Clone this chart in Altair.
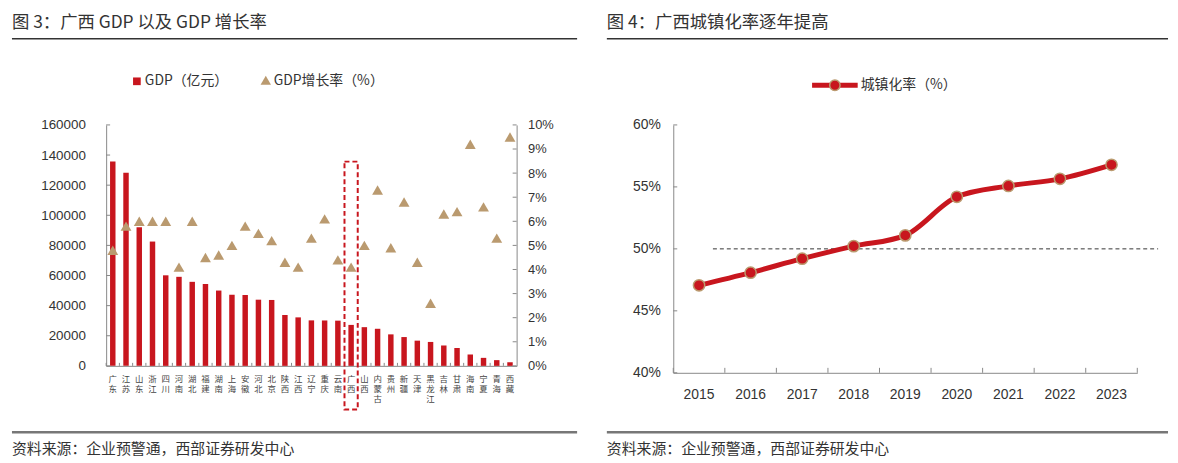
import altair as alt
import pandas as pd

provinces = ["广东", "江苏", "山东", "浙江", "四川", "河南", "湖北", "福建", "湖南", "上海",
             "安徽", "河北", "北京", "陕西", "江西", "辽宁", "重庆", "云南", "广西", "山西",
             "内蒙古", "贵州", "新疆", "天津", "黑龙江", "吉林", "甘肃", "海南", "宁夏", "青海", "西藏"]
gdp = [135673, 128222, 92069, 82553, 60133, 59132, 55804, 54355, 50013, 47219,
       47051, 43944, 43761, 33786, 32200, 30209, 30146, 30021, 27202, 25698,
       24627, 20913, 19126, 16737, 15884, 13531, 11864, 7551, 5315, 3799, 2393]
growth = [4.8, 5.8, 6.0, 6.0, 6.0, 4.1, 6.0, 4.5, 4.6, 5.0,
          5.8, 5.5, 5.2, 4.3, 4.1, 5.3, 6.1, 4.4, 4.1, 5.0,
          7.3, 4.9, 6.8, 4.3, 2.6, 6.3, 6.4, 9.2, 6.6, 5.3, 9.5]
gdp_ticks = [0, 20000, 40000, 60000, 80000, 100000, 120000, 140000, 160000]
pct_ticks = [0, 1, 2, 3, 4, 5, 6, 7, 8, 9, 10]

years = ["2015", "2016", "2017", "2018", "2019", "2020", "2021", "2022", "2023"]
urban = [47.06, 48.08, 49.21, 50.22, 51.09, 54.20, 55.08, 55.65, 56.78]
urban_ticks = [40, 45, 50, 55, 60]
urban_ref = [50]

RED = "#C8161E"
TAN = "#BA9A6F"
FONT = "Noto Sans CJK SC"
AX = "Liberation Sans"

df_l = pd.DataFrame({"province": provinces, "gdp": gdp, "growth": growth})
df_r = pd.DataFrame({"year": years, "urban": urban})
one = pd.DataFrame({"a": [0]})

LW, LH = 414, 243
RW, RH = 468, 250

xprov_scale = alt.Scale(domain=provinces, paddingInner=0, paddingOuter=0)
xprov_axis = alt.Axis(labelAngle=0, labelExpr="split(datum.label, '')",
                      labelFont=FONT, labelFontSize=8.5, labelLineHeight=10,
                      labelColor="#444", labelBaseline="top", labelPadding=9,
                      ticks=False, domainColor="#888", labelAlign="center",
                      labelOverlap=False)


def xp(**kw):
    return alt.X("province:N", scale=xprov_scale, title=None, axis=xprov_axis, **kw)


ygdp_scale = alt.Scale(domain=[0, 160000], nice=False)
ypct_scale = alt.Scale(domain=[0, 10], nice=False)

bars = alt.Chart(df_l).mark_bar(color=RED, size=5.5).encode(
    x=xp(),
    y=alt.Y("gdp:Q", scale=ygdp_scale, title=None,
            axis=alt.Axis(values=gdp_ticks, ticks=False, domainColor="#888", format="d",
                          labelFont=AX, labelFontSize=13.5, labelColor="#333",
                          labelPadding=21, grid=False)))

tri = alt.Chart(df_l).mark_point(shape="triangle-up", filled=True, size=120,
                                 color=TAN, opacity=1).encode(
    x=xp(),
    y=alt.Y("growth:Q", scale=ypct_scale, title=None,
            axis=alt.Axis(orient="right", values=pct_ticks, ticks=False,
                          domainColor="#888", labelFont=AX, labelFontSize=13,
                          labelColor="#333", labelPadding=11, grid=False,
                          labelExpr="datum.value + '%'")))

tick_l = alt.Chart(pd.DataFrame({"v": gdp_ticks})).mark_rule(color="#888").encode(
    y=alt.Y("v:Q", scale=ygdp_scale, axis=None), x=alt.value(0), x2=alt.value(4))
tick_r = alt.Chart(pd.DataFrame({"v": pct_ticks})).mark_rule(color="#888").encode(
    y=alt.Y("v:Q", scale=ypct_scale, axis=None), x=alt.value(LW - 4), x2=alt.value(LW))
tick_x = alt.Chart(df_l).mark_rule(color="#888").encode(
    x=xp(bandPosition=0), y=alt.value(LH - 3), y2=alt.value(LH))

box = alt.Chart(df_l[df_l.province == "广西"]).mark_rect(
    fillOpacity=0, stroke=RED, strokeWidth=2, strokeDash=[5, 3]).encode(
    x=xp(), y=alt.value(37), y2=alt.value(287))


def deco(title, xl, xr):
    t = alt.Chart(one).mark_text(text=title, font=FONT, fontSize=17.5, color="#333",
                                 align="left", baseline="middle").encode(
        x=alt.value(xl), y=alt.value(-103))
    r1 = alt.Chart(one).mark_rule(color="#333", strokeWidth=1.5).encode(
        x=alt.value(xl), x2=alt.value(xr), y=alt.value(-87))
    r2 = alt.Chart(one).mark_rule(color="#777", strokeWidth=2.5).encode(
        x=alt.value(xl), x2=alt.value(xr), y=alt.value(310))
    s = alt.Chart(one).mark_text(text="资料来源：企业预警通，西部证券研发中心", font=FONT,
                                 fontSize=15, color="#333", align="left",
                                 baseline="middle").encode(
        x=alt.value(xl), y=alt.value(327))
    return [t, r1, r2, s]


leg_l = [
    alt.Chart(one).mark_point(shape="square", filled=True, size=60, color=RED, opacity=1).encode(
        x=alt.value(31), y=alt.value(-44)),
    alt.Chart(one).mark_text(text="GDP（亿元）", font=FONT, fontSize=14, color="#333",
                             align="left", baseline="middle").encode(
        x=alt.value(39), y=alt.value(-44)),
    alt.Chart(one).mark_point(shape="triangle-up", filled=True, size=110, color=TAN, opacity=1).encode(
        x=alt.value(161), y=alt.value(-45)),
    alt.Chart(one).mark_text(text="GDP增长率（%）", font=FONT, fontSize=14, color="#333",
                             align="left", baseline="middle").encode(
        x=alt.value(169), y=alt.value(-44)),
]

left = alt.layer(bars, tri, tick_l, tick_r, tick_x, box,
                 *deco("图 3：广西 GDP 以及 GDP 增长率", -95, 475), *leg_l
                 ).resolve_scale(y="independent").properties(width=LW, height=LH)

# Right panel
xyear_scale = alt.Scale(domain=years, paddingInner=0, paddingOuter=0)
yurb_scale = alt.Scale(domain=[40, 60], nice=False)
xyear_axis = alt.Axis(labelAngle=0, ticks=False, domainColor="#888", labelFont=AX,
                      labelFontSize=14, labelColor="#333", labelPadding=15)
yurb_axis = alt.Axis(values=urban_ticks, ticks=False, domainColor="#888", labelFont=AX,
                     labelFontSize=14, labelColor="#333", labelPadding=13, grid=False,
                     labelExpr="datum.value + '%'")


def xy(**kw):
    return alt.X("year:N", scale=xyear_scale, title=None, axis=xyear_axis, **kw)


def yu(field):
    return alt.Y(field, scale=yurb_scale, title=None, axis=yurb_axis)


line = alt.Chart(df_r).mark_line(color=RED, strokeWidth=5, interpolate="monotone").encode(
    x=xy(), y=yu("urban:Q"))
pts = alt.Chart(df_r).mark_point(filled=True, size=130, color=RED, stroke=TAN,
                                 strokeWidth=1.5, opacity=1).encode(
    x=xy(), y=yu("urban:Q"))
ref = alt.Chart(pd.DataFrame({"v": urban_ref})).mark_rule(
    color="#333", strokeDash=[4, 3], strokeWidth=1).encode(
    y=yu("v:Q"), x=alt.value(40), x2=alt.value(489))
tick_ry = alt.Chart(pd.DataFrame({"v": urban_ticks})).mark_rule(color="#888").encode(
    y=yu("v:Q"), x=alt.value(0), x2=alt.value(4))
tick_rx = alt.Chart(df_r).mark_rule(color="#888").encode(
    x=xy(bandPosition=0), y=alt.value(RH - 5), y2=alt.value(RH))
tick_rx_end = alt.Chart(one).mark_rule(color="#888").encode(
    x=alt.value(RW), y=alt.value(RH - 5), y2=alt.value(RH))

leg_r = [
    alt.Chart(one).mark_rule(color=RED, strokeWidth=5).encode(
        x=alt.value(140), x2=alt.value(186), y=alt.value(-40)),
    alt.Chart(one).mark_point(filled=True, size=110, color=RED, stroke=TAN, strokeWidth=1.5,
                              opacity=1).encode(x=alt.value(163), y=alt.value(-40)),
    alt.Chart(one).mark_text(text="城镇化率（%）", font=FONT, fontSize=14, color="#333",
                             align="left", baseline="middle").encode(
        x=alt.value(189), y=alt.value(-40)),
]

right = alt.layer(ref, line, pts, tick_ry, tick_rx, tick_rx_end,
                  *deco("图 4：广西城镇化率逐年提高", -67, 499), *leg_r
                  ).properties(width=RW, height=RH)

chart = alt.hconcat(left, right, spacing=26).properties(
    padding={"left": 2, "top": 4, "right": 0, "bottom": 0}
).configure_view(stroke=None)

chart.save("out.html", embed_options={"renderer": "svg", "actions": False})
